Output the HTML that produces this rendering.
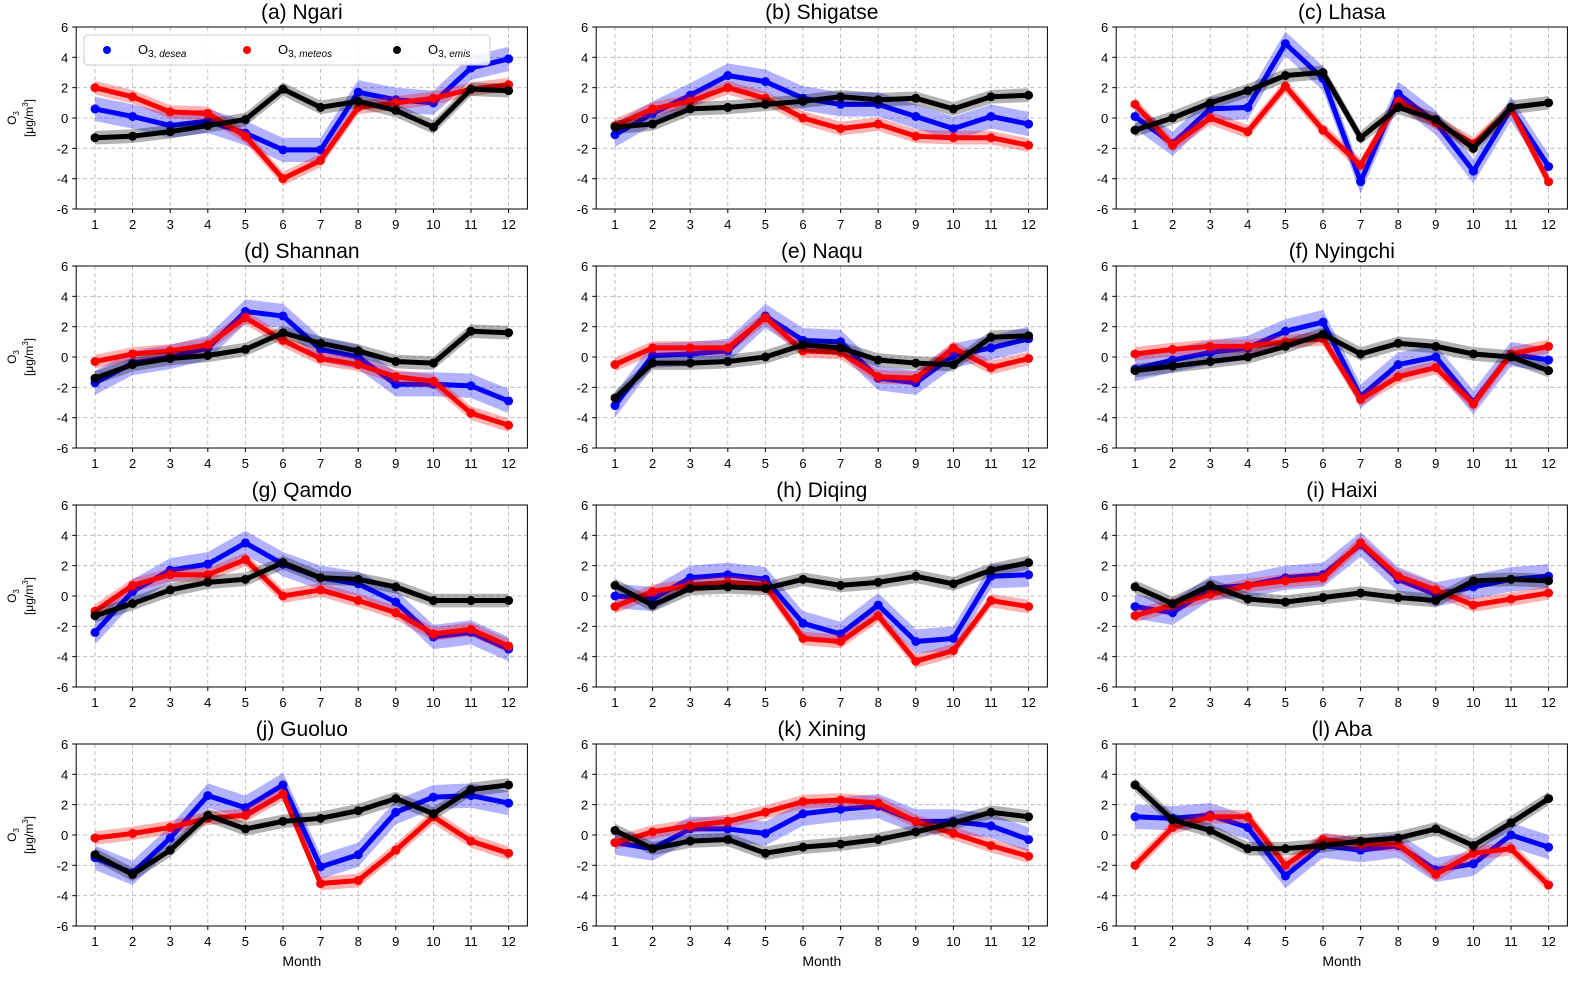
<!DOCTYPE html>
<html><head><meta charset="utf-8"><style>
body{margin:0;background:#fff;width:1582px;height:976px;overflow:hidden}
svg{font-family:"Liberation Sans",sans-serif}
</style></head><body>
<svg id="chart" width="1582" height="976" xmlns="http://www.w3.org/2000/svg"></svg>
<script>
const months=[1,2,3,4,5,6,7,8,9,10,11,12];
const yTicks=[6,4,2,0,-2,-4,-6];
const titles=["(a) Ngari","(b) Shigatse","(c) Lhasa","(d) Shannan","(e) Naqu","(f) Nyingchi","(g) Qamdo","(h) Diqing","(i) Haixi","(j) Guoluo","(k) Xining","(l) Aba"];
const blueVals=[
[0.6,0.1,-0.5,-0.2,-1.0,-2.1,-2.1,1.7,1.2,1.0,3.3,3.9],
[-1.1,0.3,1.5,2.8,2.4,1.3,0.9,0.9,0.1,-0.7,0.1,-0.4],
[0.1,-1.7,0.6,0.7,4.9,2.6,-4.2,1.6,-0.3,-3.5,0.6,-3.2],
[-1.7,-0.4,0.0,0.6,3.0,2.7,0.5,0.0,-1.8,-1.8,-1.9,-2.9],
[-3.2,0.1,0.2,0.4,2.7,1.1,1.0,-1.4,-1.7,0.1,0.6,1.2],
[-0.8,-0.2,0.3,0.6,1.7,2.3,-2.6,-0.5,0.0,-3.0,0.2,-0.2],
[-2.4,0.3,1.7,2.1,3.5,2.1,1.2,0.8,-0.4,-2.7,-2.4,-3.5],
[0.0,-0.2,1.2,1.4,1.1,-1.8,-2.5,-0.6,-3.0,-2.8,1.3,1.4],
[-0.7,-1.1,0.5,0.7,1.2,1.4,3.4,1.1,0.1,0.6,1.1,1.3],
[-1.5,-2.5,-0.2,2.6,1.8,3.3,-2.1,-1.3,1.5,2.5,2.6,2.1],
[-0.5,-0.9,0.4,0.4,0.1,1.4,1.7,1.9,0.9,0.9,0.6,-0.3],
[1.2,1.1,1.3,0.5,-2.7,-0.7,-1.0,-0.7,-2.3,-1.9,0.0,-0.8]];
const redVals=[
[2.0,1.4,0.4,0.3,-1.2,-4.0,-2.8,0.7,1.0,1.3,1.9,2.2],
[-0.5,0.6,1.1,2.0,1.3,0.0,-0.7,-0.4,-1.2,-1.3,-1.3,-1.8],
[0.9,-1.8,0.0,-0.9,2.1,-0.8,-3.1,1.1,-0.3,-1.7,0.6,-4.2],
[-0.3,0.2,0.4,0.8,2.6,1.1,-0.1,-0.5,-1.3,-1.6,-3.7,-4.5],
[-0.5,0.6,0.6,0.6,2.6,0.4,0.3,-1.3,-1.4,0.6,-0.7,-0.1],
[0.2,0.5,0.7,0.7,1.0,1.2,-2.8,-1.3,-0.7,-3.1,0.2,0.7],
[-1.0,0.7,1.4,1.4,2.4,0.0,0.4,-0.3,-1.1,-2.5,-2.2,-3.3],
[-0.7,0.3,0.7,0.9,0.7,-2.8,-3.0,-1.3,-4.3,-3.6,-0.3,-0.7],
[-1.3,-0.6,0.1,0.7,1.0,1.2,3.5,1.3,0.4,-0.6,-0.2,0.2],
[-0.2,0.1,0.5,1.1,1.3,2.7,-3.2,-3.0,-1.0,1.2,-0.4,-1.2],
[-0.5,0.2,0.6,0.9,1.5,2.2,2.3,2.1,0.9,0.1,-0.7,-1.4],
[-2.0,0.5,1.2,1.2,-2.0,-0.3,-0.6,-0.6,-2.6,-1.2,-0.9,-3.3]];
const blackVals=[
[-1.3,-1.2,-0.9,-0.5,-0.1,1.9,0.7,1.1,0.5,-0.6,1.9,1.8],
[-0.6,-0.4,0.6,0.7,0.9,1.1,1.4,1.2,1.3,0.6,1.4,1.5],
[-0.8,0.0,1.0,1.8,2.8,3.0,-1.3,0.7,-0.1,-2.0,0.7,1.0],
[-1.4,-0.5,-0.1,0.1,0.5,1.6,0.9,0.4,-0.3,-0.4,1.7,1.6],
[-2.7,-0.4,-0.4,-0.3,0.0,0.8,0.6,-0.2,-0.4,-0.5,1.3,1.4],
[-0.9,-0.6,-0.3,0.0,0.7,1.5,0.2,0.9,0.7,0.2,0.0,-0.9],
[-1.3,-0.5,0.4,0.9,1.1,2.2,1.2,1.1,0.6,-0.3,-0.3,-0.3],
[0.7,-0.6,0.5,0.6,0.5,1.1,0.7,0.9,1.3,0.8,1.7,2.2],
[0.6,-0.5,0.7,-0.2,-0.4,-0.1,0.2,-0.1,-0.3,1.0,1.1,1.0],
[-1.3,-2.6,-1.0,1.3,0.4,0.9,1.1,1.6,2.4,1.4,3.0,3.3],
[0.3,-0.9,-0.4,-0.3,-1.2,-0.8,-0.6,-0.3,0.2,0.8,1.5,1.2],
[3.3,1.0,0.3,-0.9,-0.9,-0.7,-0.4,-0.2,0.4,-0.7,0.8,2.4]];
const spreads={blue:0.8,red:0.45,black:0.45};

const NS="http://www.w3.org/2000/svg";
const svg=document.getElementById('chart');
function mk(tag,attrs,parent){const e=document.createElementNS(NS,tag);for(const k in attrs)e.setAttribute(k,attrs[k]);(parent||svg).appendChild(e);return e;}
const colX=[95,615,1135], rowY=[27,266,505,744];
const step=37.6, yH=182;
const series=[["blue",blueVals,"#0000ff"],["red",redVals,"#ff0000"],["black",blackVals,"#000000"]];
for(let p=0;p<12;p++){
  const c=p%3,r=Math.floor(p/3);
  const xs=m=>colX[c]+(m-1)*step;
  const ys=v=>rowY[r]+(6-v)/12*yH;
  const g=mk('g',{});
  
  
  const L=xs(0.5),R=xs(12.5),T=ys(6),B=ys(-6);
  months.forEach(m=>{mk('line',{x1:xs(m),x2:xs(m),y1:T,y2:B,stroke:'#b0b0b0','stroke-dasharray':'4,3','stroke-width':0.8},g);
    const t=mk('text',{x:xs(m),y:B+20,'text-anchor':'middle','font-size':13},g);t.textContent=m;
    mk('line',{x1:xs(m),x2:xs(m),y1:B,y2:B+4,stroke:'#000'},g);});
  yTicks.forEach(v=>{mk('line',{x1:L,x2:R,y1:ys(v),y2:ys(v),stroke:'#b0b0b0','stroke-dasharray':'4,3','stroke-width':0.8},g);
    const t=mk('text',{x:L-8,y:ys(v)+5,'text-anchor':'end','font-size':13},g);t.textContent=v;
    mk('line',{x1:L-4,x2:L,y1:ys(v),y2:ys(v),stroke:'#000'},g);});
  series.forEach(([nm,vals,col])=>{
    const d=vals[p],s=spreads[nm];
    let up=d.map((v,i)=>xs(months[i])+','+ys(v+s)).join(' ');
    let dn=d.map((v,i)=>xs(months[i])+','+ys(v-s)).reverse().join(' ');
    const band=mk('polygon',{points:up+' '+dn,fill:col,'fill-opacity':0.3},g);
    
    
    const ln=mk('polyline',{points:d.map((v,i)=>xs(months[i])+','+ys(v)).join(' '),fill:'none',stroke:col,'stroke-width':5,'stroke-linejoin':'round'},g);
    
    
    d.forEach((v,i)=>{const pt=mk('circle',{cx:xs(months[i]),cy:ys(v),r:4.5,fill:col},g);
      
      });
  });
  mk('rect',{x:L,y:T,width:R-L,height:B-T,fill:'none',stroke:'#000','stroke-width':1},g);
  const tt=mk('text',{x:(L+R)/2,y:T-8,'text-anchor':'middle','font-size':21},g);tt.textContent=titles[p];
  
  
  if(c===0){
    const yl=mk('text',{transform:`translate(22,${(T+B)/2}) rotate(-90)`,'text-anchor':'middle','font-size':12},g);
    yl.innerHTML='<tspan x="0" dy="-6">O<tspan font-size="8" dy="3">3</tspan></tspan><tspan x="0" dy="14">[μg/m<tspan font-size="8" dy="-5">3</tspan><tspan dy="5">]</tspan></tspan>';
    
    
  }
  if(r===3){const mt=mk('text',{x:(L+R)/2,y:966,'text-anchor':'middle','font-size':14},g);mt.textContent='Month';
    
    }
}
// legend
const lg=mk('g',{});


mk('rect',{x:84,y:35,width:406,height:30,rx:4,fill:'#fff','fill-opacity':0.85,stroke:'#ccc'},lg);
[["#0000ff","desea",107],["#ff0000","meteos",247],["#000000","emis",397]].forEach(([col,sub,x])=>{
  const e=mk('g',{},lg);
  
  
  mk('circle',{cx:x,cy:50,r:4,fill:col},e);
  const t=mk('text',{x:x+31,y:54,'font-size':13},e);
  t.innerHTML='O<tspan font-size="10" dy="3">3, <tspan font-style="italic">'+sub+'</tspan></tspan>';
});
</script>
</body></html>
